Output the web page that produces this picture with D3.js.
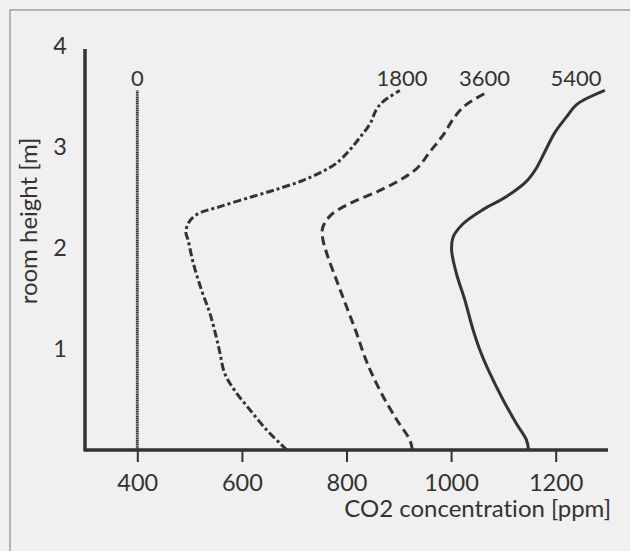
<!DOCTYPE html>
<html>
<head>
<meta charset="utf-8">
<script src="https://cdn.jsdelivr.net/npm/d3@7"></script>
<style>
  html, body { margin: 0; padding: 0; background: #f0f0f0; }
  svg { display: block; }
  text { font-family: Lato, "Open Sans", sans-serif; fill: #333; font-variant-ligatures: none; font-feature-settings: "liga" 0, "clig" 0; }
</style>
</head>
<body>
<svg id="chart" width="630" height="551"></svg>
<script>
// ---- data ----
const seriesNames = ["0", "1800", "3600", "5400"];
const xTicks = [400, 600, 800, 1000, 1200];
const yTicks = [1, 2, 3, 4];

const s0 = [[400, 0], [400, 3.56]];
const s1800 = [
  [686, 0], [672, 0.07], [647, 0.20], [615, 0.40], [586, 0.59], [567, 0.76],
  [558, 0.96], [551, 1.12], [539, 1.35], [523, 1.58], [507, 1.85], [497, 2.08],
  [493, 2.15], [497, 2.24], [513, 2.33], [558, 2.41], [621, 2.51], [672, 2.59],
  [717, 2.67], [755, 2.76], [781, 2.84], [806, 2.97], [825, 3.09], [845, 3.23],
  [857, 3.37], [870, 3.45], [902, 3.56]
];
const s3600 = [
  [926, 0], [921, 0.10], [896, 0.30], [870, 0.53], [848, 0.76], [835, 0.92],
  [819, 1.16], [800, 1.42], [781, 1.68], [762, 1.95], [754, 2.11], [755, 2.21],
  [771, 2.33], [806, 2.44], [864, 2.57], [908, 2.69], [937, 2.80], [959, 2.95],
  [985, 3.12], [1007, 3.30], [1029, 3.42], [1068, 3.54]
];
const s5400 = [
  [1148, 0], [1144, 0.10], [1125, 0.26], [1099, 0.50], [1074, 0.76], [1055, 0.99],
  [1042, 1.19], [1026, 1.49], [1010, 1.75], [1001, 1.98], [1004, 2.11], [1023, 2.24],
  [1061, 2.38], [1106, 2.51], [1144, 2.66], [1163, 2.79], [1179, 2.95], [1198, 3.14],
  [1221, 3.30], [1240, 3.42], [1294, 3.56]
];
const seriesData = [s0, s1800, s3600, s5400];
const dashes = ["1.6,0.6", "8,3,3,3", "9,5", null];
const labelX = [400, 906, 1064, 1239];

// ---- layout ----
const FONT = 'Lato, "Open Sans", sans-serif';
const svg = d3.select("#chart");
const x = d3.scaleLinear().domain([300, 1300]).range([85, 608]);
const y = d3.scaleLinear().domain([0, 4]).range([450, 46]);

// scan frame
svg.append("rect").attr("x", 10).attr("y", 10).attr("width", 640).attr("height", 560)
  .attr("fill", "none").attr("stroke", "#8a8a8a").attr("stroke-width", 1.2);

// x axis
const xAxis = d3.axisBottom(x).tickValues(xTicks).tickSize(12).tickPadding(12).tickFormat(d3.format("d"));
const gx = svg.append("g").attr("transform", `translate(0,${y(0)})`).call(xAxis);
gx.select(".domain").remove();
gx.selectAll(".tick line").attr("stroke", "#333").attr("stroke-width", 2);
gx.selectAll(".tick text").attr("font-size", 23.5).attr("fill", "#333")
  .attr("font-family", FONT);
svg.append("line").attr("x1", x(300)).attr("x2", x(1300)).attr("y1", y(0)).attr("y2", y(0))
  .attr("stroke", "#333").attr("stroke-width", 3.5);

// y axis
const yAxis = d3.axisLeft(y).tickValues(yTicks).tickSize(0).tickPadding(18).tickFormat(d3.format("d"));
const gy = svg.append("g").attr("transform", `translate(${x(300)},0)`).call(yAxis);
gy.select(".domain").remove();
gy.selectAll(".tick text").attr("font-size", 23.5).attr("fill", "#333")
  .attr("font-family", FONT);
svg.append("line").attr("x1", x(300)).attr("x2", x(300)).attr("y1", y(0) + 1.5).attr("y2", y(3.97))
  .attr("stroke", "#333").attr("stroke-width", 3.5);

// titles
svg.append("text").attr("x", 611).attr("y", 517).attr("text-anchor", "end")
  .attr("font-size", 24).text("CO2 concentration [ppm]");
svg.append("text").attr("transform", "translate(37,221) rotate(-90)").attr("text-anchor", "middle")
  .attr("font-size", 24).text("room height [m]");

// lines
const line = d3.line().x(d => x(d[0])).y(d => y(d[1])).curve(d3.curveCatmullRom.alpha(0.5));
seriesData.forEach((s, i) => {
  const p = svg.append("path").datum(s).attr("d", line)
    .attr("fill", "none").attr("stroke", "#333")
    .attr("stroke-width", i === 0 ? 2.8 : 3)
    .attr("stroke-linecap", "butt").attr("stroke-linejoin", "round");
  if (dashes[i]) p.attr("stroke-dasharray", dashes[i]);
});

// series labels
seriesNames.forEach((n, i) => {
  svg.append("text").attr("x", x(labelX[i])).attr("y", 86).attr("text-anchor", "middle")
    .attr("font-size", 22).text(n);
});
</script>
</body>
</html>
